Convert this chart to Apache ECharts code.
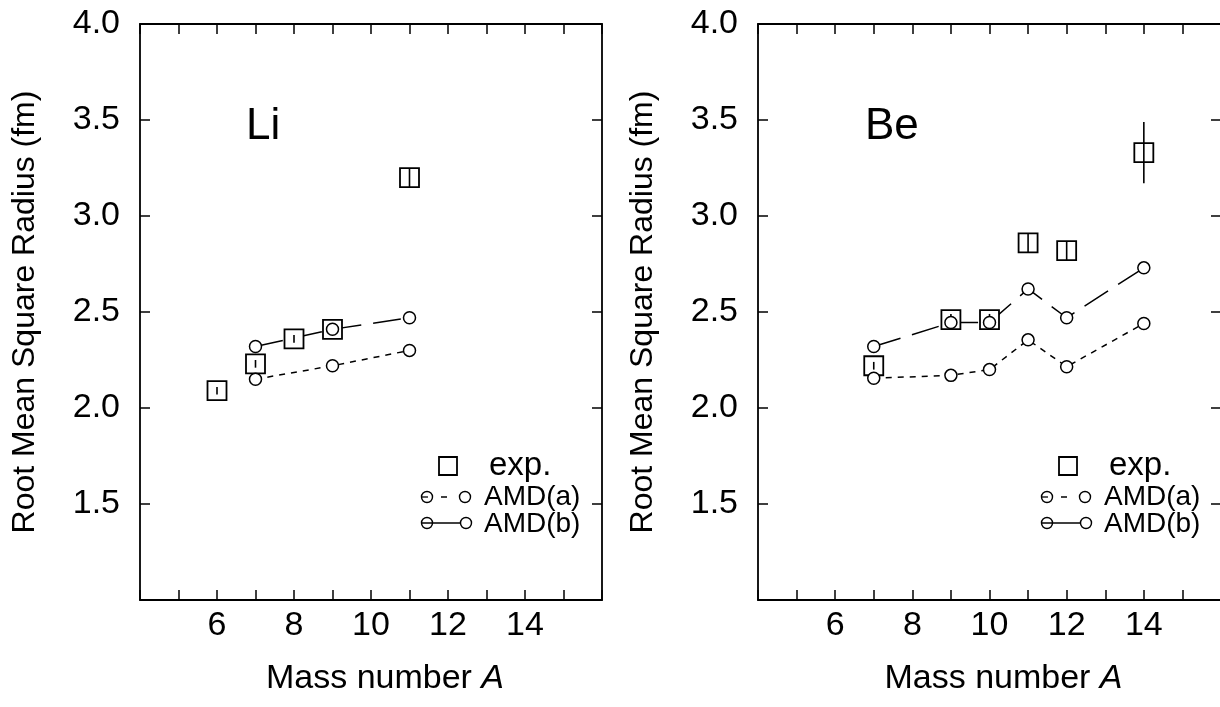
<!DOCTYPE html>
<html>
<head>
<meta charset="utf-8">
<script src="https://cdn.jsdelivr.net/npm/echarts@6/dist/echarts.min.js"></script>
<style>html,body{margin:0;padding:0;background:#fff}#c{width:1220px;height:707px}</style>
</head>
<body>
<div id="c"></div>
<script>
// ---- Data ----
const liExpA = [6, 7, 8, 9, 11];
const liExpR = [2.09, 2.23, 2.36, 2.41, 3.20];
const liExpErr = [0.02, 0.02, 0.02, 0.02, 0.05];
const liAmdA_A = [7, 9, 11];
const liAmdA_R = [2.15, 2.22, 2.30];
const liAmdB_A = [7, 9, 11];
const liAmdB_R = [2.32, 2.41, 2.47];

const beExpA = [7, 9, 10, 11, 12, 14];
const beExpR = [2.22, 2.46, 2.46, 2.86, 2.82, 3.33];
const beExpErr = [0.02, 0.03, 0.03, 0.05, 0.05, 0.16];
const beAmdA_A = [7, 9, 10, 11, 12, 14];
const beAmdA_R = [2.155, 2.17, 2.20, 2.355, 2.215, 2.44];
const beAmdB_A = [7, 9, 10, 11, 12, 14];
const beAmdB_R = [2.32, 2.445, 2.445, 2.62, 2.47, 2.73];

const xLabels = [6, 8, 10, 12, 14];
const yLabels = [1.5, 2.0, 2.5, 3.0, 3.5, 4.0];
const panelNames = ['Li', 'Be'];
const legendNames = ['exp.', 'AMD(a)', 'AMD(b)'];
const yTitle = 'Root Mean Square Radius (fm)';

// ---- Build ----
const FONT = '"Liberation Sans", Arial, Helvetica, sans-serif';
const zip = (a, b) => a.map((v, i) => [v, b[i]]);
const zip3 = (a, b, c) => a.map((v, i) => [v, b[i], c[i]]);

const chart = echarts.init(document.getElementById('c'), null, {renderer: 'canvas'});

const grids = [
  {left: 140, top: 24, width: 462, height: 576, containLabel: false, outerBoundsMode: 'none'},
  {left: 758, top: 24, width: 463, height: 576, containLabel: false, outerBoundsMode: 'none'}
];

const tickStyle = {show: true, inside: true, length: 10, lineStyle: {color: '#000', width: 1.5}};
const lineStyle = {show: true, onZero: false, lineStyle: {color: '#000', width: 1.8}};

const xAxes = [], yAxes = [];
[0, 1].forEach(g => {
  xAxes.push({
    type: 'value', gridIndex: g, position: 'bottom', min: 4, max: 16, interval: 1,
    axisLine: lineStyle, axisTick: tickStyle, splitLine: {show: false},
    axisLabel: {
      show: true, margin: 9, color: '#000', fontFamily: FONT, fontSize: 34,
      formatter: v => xLabels.indexOf(v) >= 0 ? String(v) : ''
    },
    name: '{n|Mass number }{i|A}', nameLocation: 'middle', nameGap: 62,
    nameTextStyle: {
      padding: [0, 0, 0, 28],
      rich: {
        n: {fontFamily: FONT, fontSize: 34, color: '#000'},
        i: {fontFamily: FONT, fontSize: 34, color: '#000', fontStyle: 'italic'}
      }
    }
  });
  xAxes.push({
    type: 'value', gridIndex: g, position: 'top', min: 4, max: 16, interval: 1,
    axisLine: lineStyle, axisTick: tickStyle, axisLabel: {show: false}, splitLine: {show: false}
  });
  yAxes.push({
    type: 'value', gridIndex: g, position: 'left', min: 1, max: 4, interval: 0.5,
    axisLine: lineStyle, axisTick: tickStyle, splitLine: {show: false},
    axisLabel: {
      show: true, margin: 20, color: '#000', fontFamily: FONT, fontSize: 34,
      formatter: v => yLabels.some(t => Math.abs(t - v) < 1e-6) ? v.toFixed(1) : ''
    },
    name: yTitle, nameLocation: 'middle', nameGap: 99, nameRotate: 90,
    nameTextStyle: {fontFamily: FONT, fontSize: 32, color: '#000'}
  });
  yAxes.push({
    type: 'value', gridIndex: g, position: 'right', min: 1, max: 4, interval: 0.5,
    axisLine: lineStyle, axisTick: tickStyle, axisLabel: {show: false}, splitLine: {show: false}
  });
});

function expRender(params, api) {
  const x = api.value(0), y = api.value(1), e = api.value(2);
  const c = api.coord([x, y]);
  const t = api.coord([x, y + e]);
  const b = api.coord([x, y - e]);
  const s = 19;
  return {
    type: 'group',
    children: [
      {type: 'rect', shape: {x: c[0] - s / 2, y: c[1] - s / 2, width: s, height: s},
       style: {fill: '#fff', stroke: '#000', lineWidth: 1.8}},
      {type: 'line', shape: {x1: c[0], y1: t[1], x2: c[0], y2: b[1]},
       style: {stroke: '#000', lineWidth: 1.6}}
    ]
  };
}

function panelSeries(g, expA, expR, expErr, aA, aR, bA, bR) {
  const xi = g * 2, yi = g * 2;
  const circle = {symbol: 'circle', symbolSize: 12,
    itemStyle: {color: '#fff', borderColor: '#000', borderWidth: 1.5, opacity: 1}};
  return [
    {type: 'line', name: legendNames[1], xAxisIndex: xi, yAxisIndex: yi, data: zip(aA, aR),
     showSymbol: false, z: 2, silent: true,
     lineStyle: {color: '#000', width: 1.5, type: [6, 6]}},
    {type: 'line', name: legendNames[2], xAxisIndex: xi, yAxisIndex: yi, data: zip(bA, bR),
     showSymbol: false, z: 2, silent: true,
     lineStyle: {color: '#000', width: 1.5, type: [28, 12]}},
    {type: 'custom', name: legendNames[0], xAxisIndex: xi, yAxisIndex: yi,
     data: zip3(expA, expR, expErr), renderItem: expRender, z: 3, silent: true,
     encode: {x: 0, y: 1}},
    Object.assign({type: 'scatter', xAxisIndex: xi, yAxisIndex: yi, data: zip(aA, aR), z: 4, silent: true}, circle),
    Object.assign({type: 'scatter', xAxisIndex: xi, yAxisIndex: yi, data: zip(bA, bR), z: 4, silent: true}, circle)
  ];
}

const series = [].concat(
  panelSeries(0, liExpA, liExpR, liExpErr, liAmdA_A, liAmdA_R, liAmdB_A, liAmdB_R),
  panelSeries(1, beExpA, beExpR, beExpErr, beAmdA_A, beAmdA_R, beAmdB_A, beAmdB_R)
);

// legend + panel labels as graphics
function legendGraphics(dx) {
  const els = [];
  els.push({type: 'rect', shape: {x: 439 + dx, y: 457, width: 18, height: 18},
    style: {fill: '#fff', stroke: '#000', lineWidth: 1.8}});
  els.push({type: 'text', style: {text: legendNames[0], x: 489 + dx, y: 466,
    font: '33px ' + FONT, fill: '#000', textAlign: 'left', textVerticalAlign: 'middle'}});
  // AMD(a)
  els.push({type: 'line', shape: {x1: 441 + dx, y1: 497, x2: 447 + dx, y2: 497},
    style: {stroke: '#000', lineWidth: 1.5}});
  els.push({type: 'line', shape: {x1: 421 + dx, y1: 497, x2: 428 + dx, y2: 497},
    style: {stroke: '#000', lineWidth: 1.3}});
  els.push({type: 'circle', shape: {cx: 427 + dx, cy: 497, r: 5.5},
    style: {fill: 'none', stroke: '#000', lineWidth: 1.4}});
  els.push({type: 'circle', shape: {cx: 465 + dx, cy: 497, r: 5.5},
    style: {fill: 'none', stroke: '#000', lineWidth: 1.4}});
  els.push({type: 'text', style: {text: legendNames[1], x: 484 + dx, y: 497,
    font: '28px ' + FONT, fill: '#000', textAlign: 'left', textVerticalAlign: 'middle'}});
  // AMD(b)
  els.push({type: 'line', shape: {x1: 421 + dx, y1: 523, x2: 460 + dx, y2: 523},
    style: {stroke: '#000', lineWidth: 1.5}});
  els.push({type: 'circle', shape: {cx: 427 + dx, cy: 523, r: 5.5},
    style: {fill: 'none', stroke: '#000', lineWidth: 1.4}});
  els.push({type: 'circle', shape: {cx: 466 + dx, cy: 523, r: 5.5},
    style: {fill: '#fff', stroke: '#000', lineWidth: 1.4}});
  els.push({type: 'text', style: {text: legendNames[2], x: 484 + dx, y: 524,
    font: '28px ' + FONT, fill: '#000', textAlign: 'left', textVerticalAlign: 'middle'}});
  return els;
}

const graphic = [].concat(
  legendGraphics(0), legendGraphics(620),
  [
    {type: 'text', style: {text: panelNames[0], x: 246, y: 127, font: '44px ' + FONT,
      fill: '#000', textAlign: 'left', textVerticalAlign: 'middle'}},
    {type: 'text', style: {text: panelNames[1], x: 865, y: 127, font: '44px ' + FONT,
      fill: '#000', textAlign: 'left', textVerticalAlign: 'middle'}}
  ]
);

chart.setOption({
  animation: false,
  backgroundColor: '#fff',
  grid: grids,
  xAxis: xAxes,
  yAxis: yAxes,
  series: series,
  graphic: graphic
});
</script>
</body>
</html>
